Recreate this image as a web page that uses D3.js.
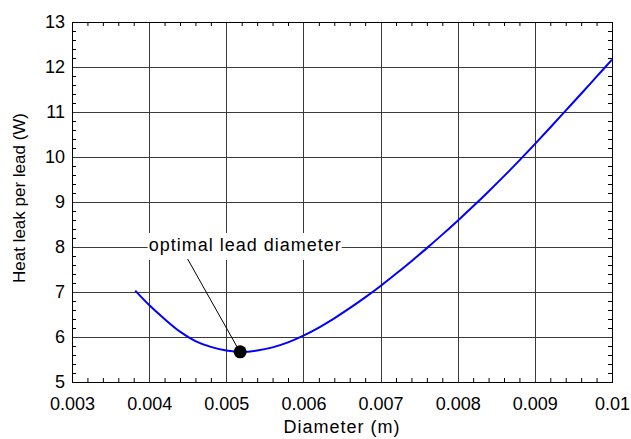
<!DOCTYPE html>
<html>
<head>
<meta charset="utf-8">
<script src="https://cdn.jsdelivr.net/npm/d3@7"></script>
<style>
  body { margin: 0; background: #fff; }
  text { font-family: Arial, "Liberation Sans", sans-serif; }
</style>
</head>
<body>
<div id="chart"></div>
<script>
// data
const diameters = [0.00382, 0.0040, 0.0042, 0.0044, 0.0046, 0.0048, 0.0050, 0.0052, 0.0054, 0.0056, 0.0058,
  0.0060, 0.0062, 0.0064, 0.0066, 0.0068, 0.0070, 0.0072, 0.0074, 0.0076, 0.0078,
  0.0080, 0.0082, 0.0084, 0.0086, 0.0088, 0.0090, 0.0092, 0.0094, 0.0096, 0.0098, 0.0100];
const heatLeak = [7.03, 6.71, 6.40, 6.12, 5.91, 5.78, 5.70, 5.67, 5.70, 5.77, 5.88,
  6.03, 6.21, 6.415, 6.64, 6.88, 7.135, 7.405, 7.685, 7.975, 8.275,
  8.585, 8.905, 9.235, 9.575, 9.925, 10.285, 10.655, 11.03, 11.405, 11.785, 12.165];
const optimum = [0.00518, 5.67];
const xTicks = [0.003, 0.004, 0.005, 0.006, 0.007, 0.008, 0.009, 0.01];
const yTicks = [5, 6, 7, 8, 9, 10, 11, 12, 13];
const annotation = "optimal lead diameter";

const MARGIN = {TOP: 22, RIGHT: 19, BOTTOM: 57, LEFT: 72};
const W = 631, H = 439;
const WIDTH = W - MARGIN.LEFT - MARGIN.RIGHT;
const HEIGHT = H - MARGIN.TOP - MARGIN.BOTTOM;

const svg = d3.select('#chart').append('svg')
    .attr('width', W)
    .attr('height', H);
const g = svg.append('g')
    .attr('transform', `translate(${MARGIN.LEFT},${MARGIN.TOP})`);

const x = d3.scaleLinear().domain([0.003, 0.01]).range([0, WIDTH]);
const y = d3.scaleLinear().domain([5, 13]).range([HEIGHT, 0]);

// minor tick positions (5 subdivisions)
const xMinor = d3.range(0.003, 0.01 + 1e-9, 0.0002).filter((d, i) => i % 5 !== 0);
const yMinor = d3.range(5, 13 + 1e-9, 0.2).filter((d, i) => i % 5 !== 0);

// grid
g.append('g').selectAll('line').data(xTicks.slice(1, -1)).join('line')
    .attr('x1', d => Math.round(x(d)) + 0.5).attr('x2', d => Math.round(x(d)) + 0.5)
    .attr('y1', 0).attr('y2', HEIGHT)
    .attr('stroke', '#3a3a3a');
g.append('g').selectAll('line').data(yTicks.slice(1, -1)).join('line')
    .attr('y1', d => Math.round(y(d)) + 0.5).attr('y2', d => Math.round(y(d)) + 0.5)
    .attr('x1', 0).attr('x2', WIDTH)
    .attr('stroke', '#3a3a3a');

// minor ticks, inward on all four sides
const minorAxes = [
  [d3.axisBottom(x).tickValues(xMinor), `translate(0,${HEIGHT})`],
  [d3.axisTop(x).tickValues(xMinor), 'translate(0,0)'],
  [d3.axisLeft(y).tickValues(yMinor), 'translate(0,0)'],
  [d3.axisRight(y).tickValues(yMinor), `translate(${WIDTH},0)`]
];
minorAxes.forEach(([ax, tr]) => {
  const a = g.append('g').attr('transform', tr)
      .call(ax.tickSize(-4).tickFormat(''));
  a.select('.domain').remove();
  a.selectAll('line').attr('stroke', '#000');
});

// frame
g.append('rect')
    .attr('x', 0.5).attr('y', 0.5)
    .attr('width', WIDTH).attr('height', HEIGHT)
    .attr('fill', 'none').attr('stroke', '#000');

// tick labels
const xAxis = g.append('g').attr('transform', `translate(0,${HEIGHT})`)
    .call(d3.axisBottom(x).tickValues(xTicks).tickSize(0).tickPadding(15)
      .tickFormat(d => d === 0.01 ? '0.01' : d3.format('.3f')(d)));
const yAxis = g.append('g')
    .call(d3.axisLeft(y).tickValues(yTicks).tickSize(0).tickPadding(7));
[xAxis, yAxis].forEach(a => {
  a.select('.domain').remove();
  a.selectAll('text').attr('font-size', 18).attr('fill', '#000')
      .attr('font-family', 'Arial, "Liberation Sans", sans-serif');
});

// curve
const pts = diameters.map((d, i) => [d, heatLeak[i]]);
g.append('path')
    .datum(pts)
    .attr('fill', 'none')
    .attr('stroke', '#0000ff')
    .attr('stroke-width', 2)
    .attr('d', d3.line().x(d => x(d[0])).y(d => y(d[1])).curve(d3.curveCatmullRom));

// annotation: white box behind the label, leader line to the optimum
const labelBox = g.append('rect').attr('fill', '#fff');
const lbl = g.append('text')
    .attr('x', x(0.005245))
    .attr('y', y(8) + 4)
    .attr('text-anchor', 'middle')
    .attr('font-size', 18)
    .attr('letter-spacing', 1)
    .text(annotation);
const bb = lbl.node().getBBox();
labelBox
    .attr('x', bb.x - 1).attr('y', y(8) - 14)
    .attr('width', bb.width + 1).attr('height', 27);

g.append('line')
    .attr('x1', bb.x + 39).attr('y1', y(8) + 12)
    .attr('x2', x(optimum[0]) - 2).attr('y2', y(optimum[1]) - 3)
    .attr('stroke', '#000').attr('stroke-width', 1);

g.append('circle')
    .attr('cx', x(optimum[0]))
    .attr('cy', y(optimum[1]))
    .attr('r', 6.5)
    .attr('fill', '#000');

// axis titles
svg.append('text')
    .attr('x', MARGIN.LEFT + WIDTH / 2)
    .attr('y', 433)
    .attr('text-anchor', 'middle')
    .attr('font-size', 18)
    .attr('letter-spacing', 1)
    .text('Diameter (m)');

svg.append('text')
    .attr('transform', 'translate(25,198) rotate(-90)')
    .attr('text-anchor', 'middle')
    .attr('font-size', 17)
    .text('Heat leak per lead (W)');
</script>
</body>
</html>
